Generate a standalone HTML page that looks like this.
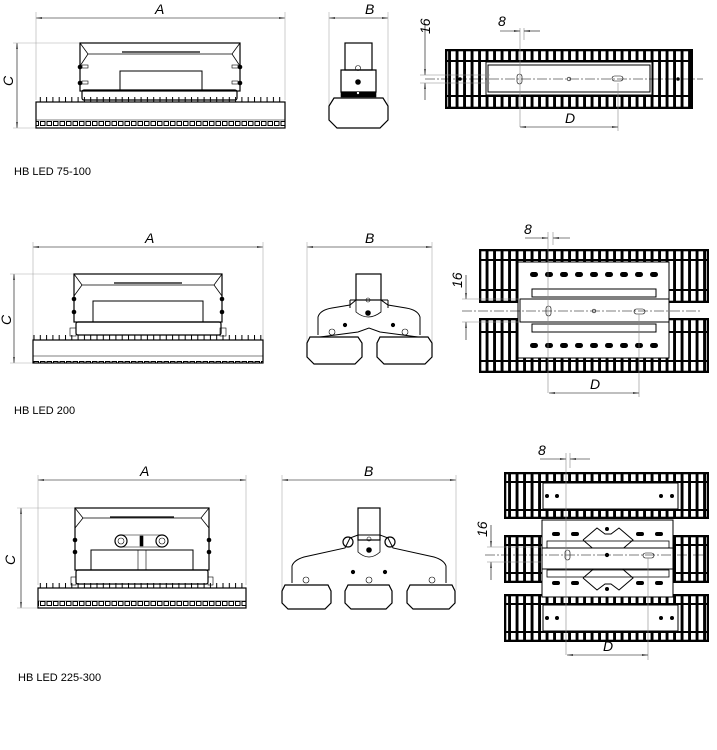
<!DOCTYPE html>
<html><head><meta charset="utf-8"><style>
html,body{margin:0;padding:0;background:#fff;}
svg{display:block;}
text{font-family:"Liberation Sans",sans-serif;}
.d{font-style:italic;font-size:14px;}
.l{font-size:11px;}
</style></head><body>
<svg width="717" height="750" viewBox="0 0 717 750" xmlns="http://www.w3.org/2000/svg">
<defs>
<pattern id="slots" patternUnits="userSpaceOnUse" width="7.5" height="400" x="1"><rect x="0" y="0" width="4.6" height="400" fill="#fff"/></pattern>
<pattern id="fins" patternUnits="userSpaceOnUse" width="6.3" height="10" x="2"><rect x="0" y="0" width="1" height="10" fill="#000"/></pattern>
<pattern id="leds" patternUnits="userSpaceOnUse" width="6.5" height="10" x="1"><rect x="0.5" y="1.5" width="4.5" height="4" fill="none" stroke="#000" stroke-width="1"/></pattern>
<marker id="ar" viewBox="0 0 10 6" refX="10" refY="3" markerWidth="10" markerHeight="6" orient="auto-start-reverse"><path d="M0,1.8 L10,3 L0,4.2 Z" fill="#000"/></marker>
</defs>
<g stroke="#000" fill="none" stroke-width="0.6">
<!-- ============ ROW 1 ============ -->
<!-- A -->
<line x1="36" y1="18" x2="285" y2="18" marker-start="url(#ar)" marker-end="url(#ar)"/>
<line x1="36" y1="12" x2="36" y2="100" stroke="#aaa"/><line x1="285" y1="12" x2="285" y2="100" stroke="#aaa"/>
<!-- C -->
<line x1="17" y1="43" x2="17" y2="128" marker-start="url(#ar)" marker-end="url(#ar)"/>
<line x1="13" y1="43" x2="80" y2="43" stroke="#aaa"/><line x1="13" y1="128" x2="36" y2="128" stroke="#aaa"/>
<!-- housing -->
<rect x="80" y="43" width="160" height="48" stroke-width="1.2"/>
<path d="M80,43 L88,54 L232,54 L240,43 M88,54 L80,66 M232,54 L240,66" stroke-width="0.8"/>
<line x1="122" y1="52" x2="200" y2="52" stroke-width="1.2"/>
<rect x="120" y="71" width="82" height="20" stroke-width="1"/>
<rect x="82" y="90" width="155" height="10" rx="2" stroke-width="1.2"/>
<g fill="#000"><circle cx="80" cy="67" r="2"/><circle cx="80" cy="83" r="2"/><circle cx="240" cy="67" r="2"/><circle cx="240" cy="83" r="2"/></g>
<rect x="82" y="65" width="6" height="3"/><rect x="82" y="81" width="6" height="3"/><rect x="232" y="65" width="6" height="3"/><rect x="232" y="81" width="6" height="3"/>
<!-- heatsink -->
<rect x="36" y="97" width="249" height="5" fill="url(#fins)" stroke="none"/>
<rect x="36" y="102" width="249" height="26" stroke-width="1.2"/>
<rect x="36" y="120" width="249" height="8" fill="url(#leds)" stroke="none"/>
<line x1="36" y1="120" x2="285" y2="120"/>
<!-- side -->
<line x1="329" y1="18" x2="388" y2="18" marker-start="url(#ar)" marker-end="url(#ar)"/>
<line x1="329" y1="12" x2="329" y2="110" stroke="#aaa"/><line x1="388" y1="12" x2="388" y2="110" stroke="#aaa"/>
<rect x="345" y="43" width="27" height="27" stroke-width="1.2"/>
<path d="M341,70 L376,70 L376,92 L341,92 Z" stroke-width="1.2"/>
<rect x="341" y="92" width="35" height="5" fill="#000"/>
<circle cx="358" cy="68" r="2.5"/><circle cx="358" cy="82" r="2.5" fill="#000"/><circle cx="358" cy="93" r="1.5" fill="#fff"/>
<path d="M334,98 L383,98 L388,106 L388,120 L380,128 L337,128 L329,120 L329,106 Z" stroke-width="1.2"/>
<!-- top -->
<rect x="445" y="49" width="248" height="60" fill="#000" stroke="none"/>
<rect x="447" y="51" width="244" height="56" fill="url(#slots)"/>
<rect x="445" y="60" width="248" height="2" fill="#000" stroke="none"/>
<rect x="445" y="95" width="248" height="2" fill="#000" stroke="none"/>
<rect x="486" y="62" width="166" height="33" fill="#fff" stroke="#000" stroke-width="1"/>
<rect x="488" y="65" width="162" height="27" stroke-width="1"/>
<line x1="425" y1="79" x2="703" y2="79" stroke-dasharray="10,2,2,2"/>
<rect x="517" y="74" width="5" height="10" rx="2.5"/><circle cx="569" cy="79" r="1.8"/><rect x="612" y="76" width="11" height="5" rx="2.5"/>
<g fill="#000"><circle cx="460" cy="79" r="1.5"/><circle cx="678" cy="79" r="1.5"/></g>
<line x1="520" y1="28" x2="520" y2="127" stroke="#888"/><line x1="524" y1="28" x2="524" y2="40" stroke="#888"/>
<line x1="500" y1="31" x2="520" y2="31" marker-end="url(#ar)"/><line x1="540" y1="31" x2="524" y2="31" marker-end="url(#ar)"/>
<line x1="618" y1="83" x2="618" y2="131" stroke="#888"/>
<line x1="520" y1="127" x2="618" y2="127" marker-start="url(#ar)" marker-end="url(#ar)"/>
<line x1="425" y1="24" x2="425" y2="75" marker-end="url(#ar)"/><line x1="425" y1="100" x2="425" y2="83" marker-end="url(#ar)"/>
<line x1="420" y1="75" x2="490" y2="75" stroke="#888"/><line x1="420" y1="83" x2="490" y2="83" stroke="#888"/>

<!-- ============ ROW 2 ============ -->
<line x1="33" y1="247" x2="263" y2="247" marker-start="url(#ar)" marker-end="url(#ar)"/>
<line x1="33" y1="242" x2="33" y2="340" stroke="#aaa"/><line x1="263" y1="242" x2="263" y2="340" stroke="#aaa"/>
<line x1="14" y1="274" x2="14" y2="363" marker-start="url(#ar)" marker-end="url(#ar)"/>
<line x1="10" y1="274" x2="74" y2="274" stroke="#aaa"/><line x1="10" y1="363" x2="33" y2="363" stroke="#aaa"/>
<rect x="74" y="274" width="148" height="48" stroke-width="1.2"/>
<path d="M74,274 L82,285 L214,285 L222,274 M82,285 L74,296 M214,285 L222,296" stroke-width="0.8"/>
<line x1="114" y1="283" x2="182" y2="283" stroke-width="1.2"/>
<rect x="93" y="301" width="110" height="21" stroke-width="1"/>
<rect x="76" y="322" width="145" height="13" rx="2" stroke-width="1.2"/>
<rect x="70" y="328" width="6" height="8"/><rect x="220" y="328" width="6" height="8"/>
<g fill="#000"><circle cx="74" cy="299" r="2"/><circle cx="74" cy="312" r="2"/><circle cx="222" cy="299" r="2"/><circle cx="222" cy="312" r="2"/></g>
<rect x="33" y="335" width="230" height="5" fill="url(#fins)" stroke="none"/>
<rect x="33" y="340" width="230" height="23" stroke-width="1.2"/>
<rect x="33" y="356" width="230" height="7" fill="url(#leds)" stroke="none"/>
<line x1="33" y1="356" x2="263" y2="356"/>
<!-- side -->
<line x1="307" y1="247" x2="432" y2="247" marker-start="url(#ar)" marker-end="url(#ar)"/>
<line x1="307" y1="242" x2="307" y2="345" stroke="#aaa"/><line x1="432" y1="242" x2="432" y2="345" stroke="#aaa"/>
<rect x="356" y="274" width="25" height="26" stroke-width="1.2"/>
<path d="M350,300 L356,300 M381,300 L388,300 M350,300 L350,308 M388,300 L388,308" stroke-width="1"/>
<path d="M318,335 L318,317 Q320,310 332,308 L350,305 L356,300 L381,300 L388,305 L406,308 Q418,310 420,317 L420,335 M320,337 L358,332 L369,328 L380,332 L418,337" stroke-width="1"/>
<path d="M356,300 L356,312 Q368,322 381,312 L381,300" stroke-width="0.8"/>
<circle cx="368" cy="300" r="2"/><circle cx="368" cy="313" r="2.5" fill="#000"/>
<circle cx="332" cy="332" r="3"/><circle cx="405" cy="332" r="3"/><circle cx="345" cy="325" r="1.8" fill="#000"/><circle cx="393" cy="325" r="1.8" fill="#000"/>
<path d="M310,337 L358,337 L362,343 L362,357 L355,364 L314,364 L307,357 L307,343 Z" fill="#fff" stroke-width="1.2"/>
<path d="M380,337 L428,337 L432,343 L432,357 L425,364 L384,364 L377,357 L377,343 Z" fill="#fff" stroke-width="1.2"/>
<!-- top -->
<rect x="479" y="249" width="230" height="54" fill="#000" stroke="none"/>
<rect x="481" y="251" width="226" height="50" fill="url(#slots)"/>
<rect x="479" y="259" width="230" height="2" fill="#000" stroke="none"/>
<rect x="479" y="289" width="230" height="2" fill="#000" stroke="none"/>
<rect x="479" y="318" width="230" height="55" fill="#000" stroke="none"/>
<rect x="481" y="320" width="226" height="51" fill="url(#slots)"/>
<rect x="479" y="331" width="230" height="2" fill="#000" stroke="none"/>
<rect x="479" y="360" width="230" height="2" fill="#000" stroke="none"/>
<rect x="518" y="262" width="151" height="96" fill="#fff" stroke="#000" stroke-width="1"/>
<g fill="#000" stroke="none">
<rect x="530" y="272" width="8" height="5" rx="2.5"/><rect x="545" y="272" width="8" height="5" rx="2.5"/><rect x="560" y="272" width="8" height="5" rx="2.5"/><rect x="575" y="272" width="8" height="5" rx="2.5"/><rect x="590" y="272" width="8" height="5" rx="2.5"/><rect x="605" y="272" width="8" height="5" rx="2.5"/><rect x="620" y="272" width="8" height="5" rx="2.5"/><rect x="635" y="272" width="8" height="5" rx="2.5"/><rect x="650" y="272" width="8" height="5" rx="2.5"/>
<rect x="530" y="343" width="8" height="5" rx="2.5"/><rect x="545" y="343" width="8" height="5" rx="2.5"/><rect x="560" y="343" width="8" height="5" rx="2.5"/><rect x="575" y="343" width="8" height="5" rx="2.5"/><rect x="590" y="343" width="8" height="5" rx="2.5"/><rect x="605" y="343" width="8" height="5" rx="2.5"/><rect x="620" y="343" width="8" height="5" rx="2.5"/><rect x="635" y="343" width="8" height="5" rx="2.5"/><rect x="650" y="343" width="8" height="5" rx="2.5"/>
</g>
<rect x="532" y="289" width="124" height="8" stroke-width="1"/><rect x="532" y="324" width="124" height="8" stroke-width="1"/>
<rect x="520" y="299" width="149" height="23" fill="#fff" stroke="#000" stroke-width="1"/>
<line x1="462" y1="311" x2="700" y2="311" stroke-dasharray="10,2,2,2"/>
<rect x="546" y="306" width="5" height="10" rx="2.5"/><circle cx="594" cy="311" r="1.8"/><rect x="634" y="309" width="11" height="5" rx="2.5"/>
<line x1="548" y1="232" x2="548" y2="393" stroke="#888"/><line x1="553" y1="232" x2="553" y2="245" stroke="#888"/>
<line x1="525" y1="238" x2="548" y2="238" marker-end="url(#ar)"/><line x1="570" y1="238" x2="553" y2="238" marker-end="url(#ar)"/>
<line x1="639" y1="314" x2="639" y2="397" stroke="#888"/>
<line x1="549" y1="393" x2="639" y2="393" marker-start="url(#ar)" marker-end="url(#ar)"/>
<line x1="466" y1="275" x2="466" y2="299" marker-end="url(#ar)"/><line x1="466" y1="340" x2="466" y2="322" marker-end="url(#ar)"/>
<line x1="462" y1="299" x2="520" y2="299" stroke="#888"/><line x1="462" y1="322" x2="520" y2="322" stroke="#888"/>

<!-- ============ ROW 3 ============ -->
<line x1="38" y1="480" x2="246" y2="480" marker-start="url(#ar)" marker-end="url(#ar)"/>
<line x1="38" y1="475" x2="38" y2="585" stroke="#aaa"/><line x1="246" y1="475" x2="246" y2="585" stroke="#aaa"/>
<line x1="21" y1="508" x2="21" y2="608" marker-start="url(#ar)" marker-end="url(#ar)"/>
<line x1="17" y1="508" x2="75" y2="508" stroke="#aaa"/><line x1="17" y1="608" x2="38" y2="608" stroke="#aaa"/>
<rect x="75" y="508" width="134" height="62" stroke-width="1.2"/>
<path d="M75,508 L83,518 L201,518 L209,508 M83,518 L75,528 M201,518 L209,528" stroke-width="0.8"/>
<line x1="110" y1="517" x2="174" y2="517" stroke-width="1.2"/>
<rect x="91" y="550" width="102" height="20" stroke-width="1"/>
<line x1="138" y1="550" x2="138" y2="570"/><line x1="146" y1="550" x2="146" y2="570"/>
<circle cx="121" cy="541" r="6" stroke-width="1.2"/><circle cx="121" cy="541" r="3"/><circle cx="162" cy="541" r="6" stroke-width="1.2"/><circle cx="162" cy="541" r="3"/>
<line x1="121" y1="535" x2="162" y2="535"/><line x1="121" y1="547" x2="162" y2="547"/><rect x="140" y="536" width="3" height="10" fill="#000"/>
<rect x="76" y="570" width="132" height="14" rx="2" stroke-width="1.2"/>
<rect x="71" y="577" width="5" height="8"/><rect x="208" y="577" width="5" height="8"/>
<g fill="#000"><circle cx="75" cy="540" r="2"/><circle cx="75" cy="552" r="2"/><circle cx="209" cy="540" r="2"/><circle cx="209" cy="552" r="2"/></g>
<rect x="38" y="583" width="208" height="5" fill="url(#fins)" stroke="none"/>
<rect x="38" y="588" width="208" height="20" stroke-width="1.2"/>
<rect x="38" y="601" width="208" height="7" fill="url(#leds)" stroke="none"/>
<line x1="38" y1="601" x2="246" y2="601"/>
<!-- side -->
<line x1="282" y1="480" x2="456" y2="480" marker-start="url(#ar)" marker-end="url(#ar)"/>
<line x1="282" y1="475" x2="282" y2="590" stroke="#aaa"/><line x1="456" y1="475" x2="456" y2="590" stroke="#aaa"/>
<rect x="358" y="508" width="22" height="32" stroke-width="1.2"/>
<path d="M292,583 L292,566 Q294,560 304,557 L345,548 L350,538 L358,535 L380,535 L388,538 L393,548 L434,557 Q444,560 446,566 L446,583" stroke-width="1"/>
<path d="M358,535 L358,552 Q369,562 380,552 L380,535" stroke-width="0.8"/>
<circle cx="348" cy="542" r="5" stroke-width="1.2"/><circle cx="390" cy="542" r="5" stroke-width="1.2"/><circle cx="369" cy="550" r="2.5" fill="#000"/><circle cx="369" cy="539" r="2"/>
<circle cx="306" cy="580" r="3"/><circle cx="369" cy="580" r="3"/><circle cx="432" cy="580" r="3"/><circle cx="353" cy="572" r="1.8" fill="#000"/><circle cx="385" cy="572" r="1.8" fill="#000"/>
<path d="M285,585 L328,585 L331,591 L331,603 L325,609 L288,609 L282,603 L282,591 Z" fill="#fff" stroke-width="1.2"/>
<path d="M348,585 L389,585 L392,591 L392,603 L386,609 L351,609 L345,603 L345,591 Z" fill="#fff" stroke-width="1.2"/>
<path d="M410,585 L452,585 L455,591 L455,603 L449,609 L413,609 L407,603 L407,591 Z" fill="#fff" stroke-width="1.2"/>
<!-- top -->
<rect x="504" y="472" width="205" height="47" fill="#000" stroke="none"/>
<rect x="506" y="474" width="201" height="43" fill="url(#slots)"/>
<rect x="504" y="481" width="205" height="2" fill="#000" stroke="none"/>
<rect x="504" y="509" width="205" height="2" fill="#000" stroke="none"/>
<rect x="543" y="483" width="135" height="26" fill="#fff" stroke="#000" stroke-width="1"/>
<rect x="504" y="535" width="205" height="48" fill="#000" stroke="none"/>
<rect x="506" y="537" width="201" height="44" fill="url(#slots)"/>
<rect x="504" y="544" width="205" height="2" fill="#000" stroke="none"/>
<rect x="504" y="572" width="205" height="2" fill="#000" stroke="none"/>
<rect x="504" y="594" width="205" height="48" fill="#000" stroke="none"/>
<rect x="506" y="596" width="201" height="44" fill="url(#slots)"/>
<rect x="504" y="603" width="205" height="2" fill="#000" stroke="none"/>
<rect x="504" y="631" width="205" height="2" fill="#000" stroke="none"/>
<rect x="543" y="605" width="135" height="26" fill="#fff" stroke="#000" stroke-width="1"/>
<rect x="542" y="520" width="131" height="77" fill="#fff" stroke="#000" stroke-width="1"/>
<g fill="#000" stroke="none">
<rect x="552" y="532" width="8" height="4" rx="2"/><rect x="571" y="532" width="8" height="4" rx="2"/><rect x="636" y="532" width="8" height="4" rx="2"/><rect x="655" y="532" width="8" height="4" rx="2"/>
<rect x="552" y="581" width="8" height="4" rx="2"/><rect x="571" y="581" width="8" height="4" rx="2"/><rect x="636" y="581" width="8" height="4" rx="2"/><rect x="655" y="581" width="8" height="4" rx="2"/>
<circle cx="547" cy="496" r="2"/><circle cx="547" cy="618" r="2"/><circle cx="672" cy="496" r="2"/><circle cx="672" cy="618" r="2"/>
<circle cx="557" cy="496" r="2"/><circle cx="557" cy="618" r="2"/><circle cx="661" cy="496" r="2"/><circle cx="661" cy="618" r="2"/>
<circle cx="607" cy="529" r="2"/><circle cx="607" cy="589" r="2"/>
</g>
<path d="M583,540 L597,528 L605,534 L611,534 L619,528 L633,540 L619,552 M583,540 L597,552" stroke-width="1"/>
<path d="M583,578 L597,566 M583,578 L597,590 L605,584 L611,584 L619,590 L633,578 L619,566" stroke-width="1"/>
<rect x="547" y="541" width="122" height="7" stroke-width="0.8"/><rect x="547" y="570" width="122" height="7" stroke-width="0.8"/>
<rect x="542" y="548" width="131" height="21" fill="#fff" stroke="#000" stroke-width="1"/>
<line x1="485" y1="555" x2="705" y2="555" stroke-dasharray="10,2,2,2"/>
<rect x="565" y="550" width="5" height="10" rx="2.5"/><circle cx="607" cy="555" r="1.8" fill="#000"/><rect x="643" y="553" width="11" height="5" rx="2.5"/>
<line x1="566" y1="453" x2="566" y2="655" stroke="#888"/><line x1="570" y1="453" x2="570" y2="468" stroke="#888"/>
<line x1="540" y1="459" x2="566" y2="459" marker-end="url(#ar)"/><line x1="590" y1="459" x2="570" y2="459" marker-end="url(#ar)"/>
<line x1="648" y1="558" x2="648" y2="660" stroke="#888"/>
<line x1="567" y1="655" x2="648" y2="655" marker-start="url(#ar)" marker-end="url(#ar)"/>
<line x1="491" y1="525" x2="491" y2="547" marker-end="url(#ar)"/><line x1="491" y1="580" x2="491" y2="562" marker-end="url(#ar)"/>
<line x1="487" y1="547" x2="542" y2="547" stroke="#888"/><line x1="487" y1="562" x2="542" y2="562" stroke="#888"/>
</g>
<!-- text -->
<g fill="#000">
<text class="d" x="155" y="14">A</text>
<text class="d" x="365" y="14">B</text>
<text class="d" transform="translate(13,86) rotate(-90)">C</text>
<text class="d" transform="translate(430,34) rotate(-90)">16</text>
<text class="d" x="498" y="26">8</text>
<text class="d" x="565" y="123">D</text>
<text class="l" x="14" y="175">HB LED 75-100</text>

<text class="d" x="145" y="243">A</text>
<text class="d" x="365" y="243">B</text>
<text class="d" transform="translate(11,325) rotate(-90)">C</text>
<text class="d" transform="translate(462,288) rotate(-90)">16</text>
<text class="d" x="524" y="234">8</text>
<text class="d" x="590" y="389">D</text>
<text class="l" x="14" y="414">HB LED 200</text>

<text class="d" x="140" y="476">A</text>
<text class="d" x="364" y="476">B</text>
<text class="d" transform="translate(15,565) rotate(-90)">C</text>
<text class="d" transform="translate(487,537) rotate(-90)">16</text>
<text class="d" x="538" y="455">8</text>
<text class="d" x="603" y="651">D</text>
<text class="l" x="18" y="681">HB LED 225-300</text>
</g>
</svg>
</body></html>
